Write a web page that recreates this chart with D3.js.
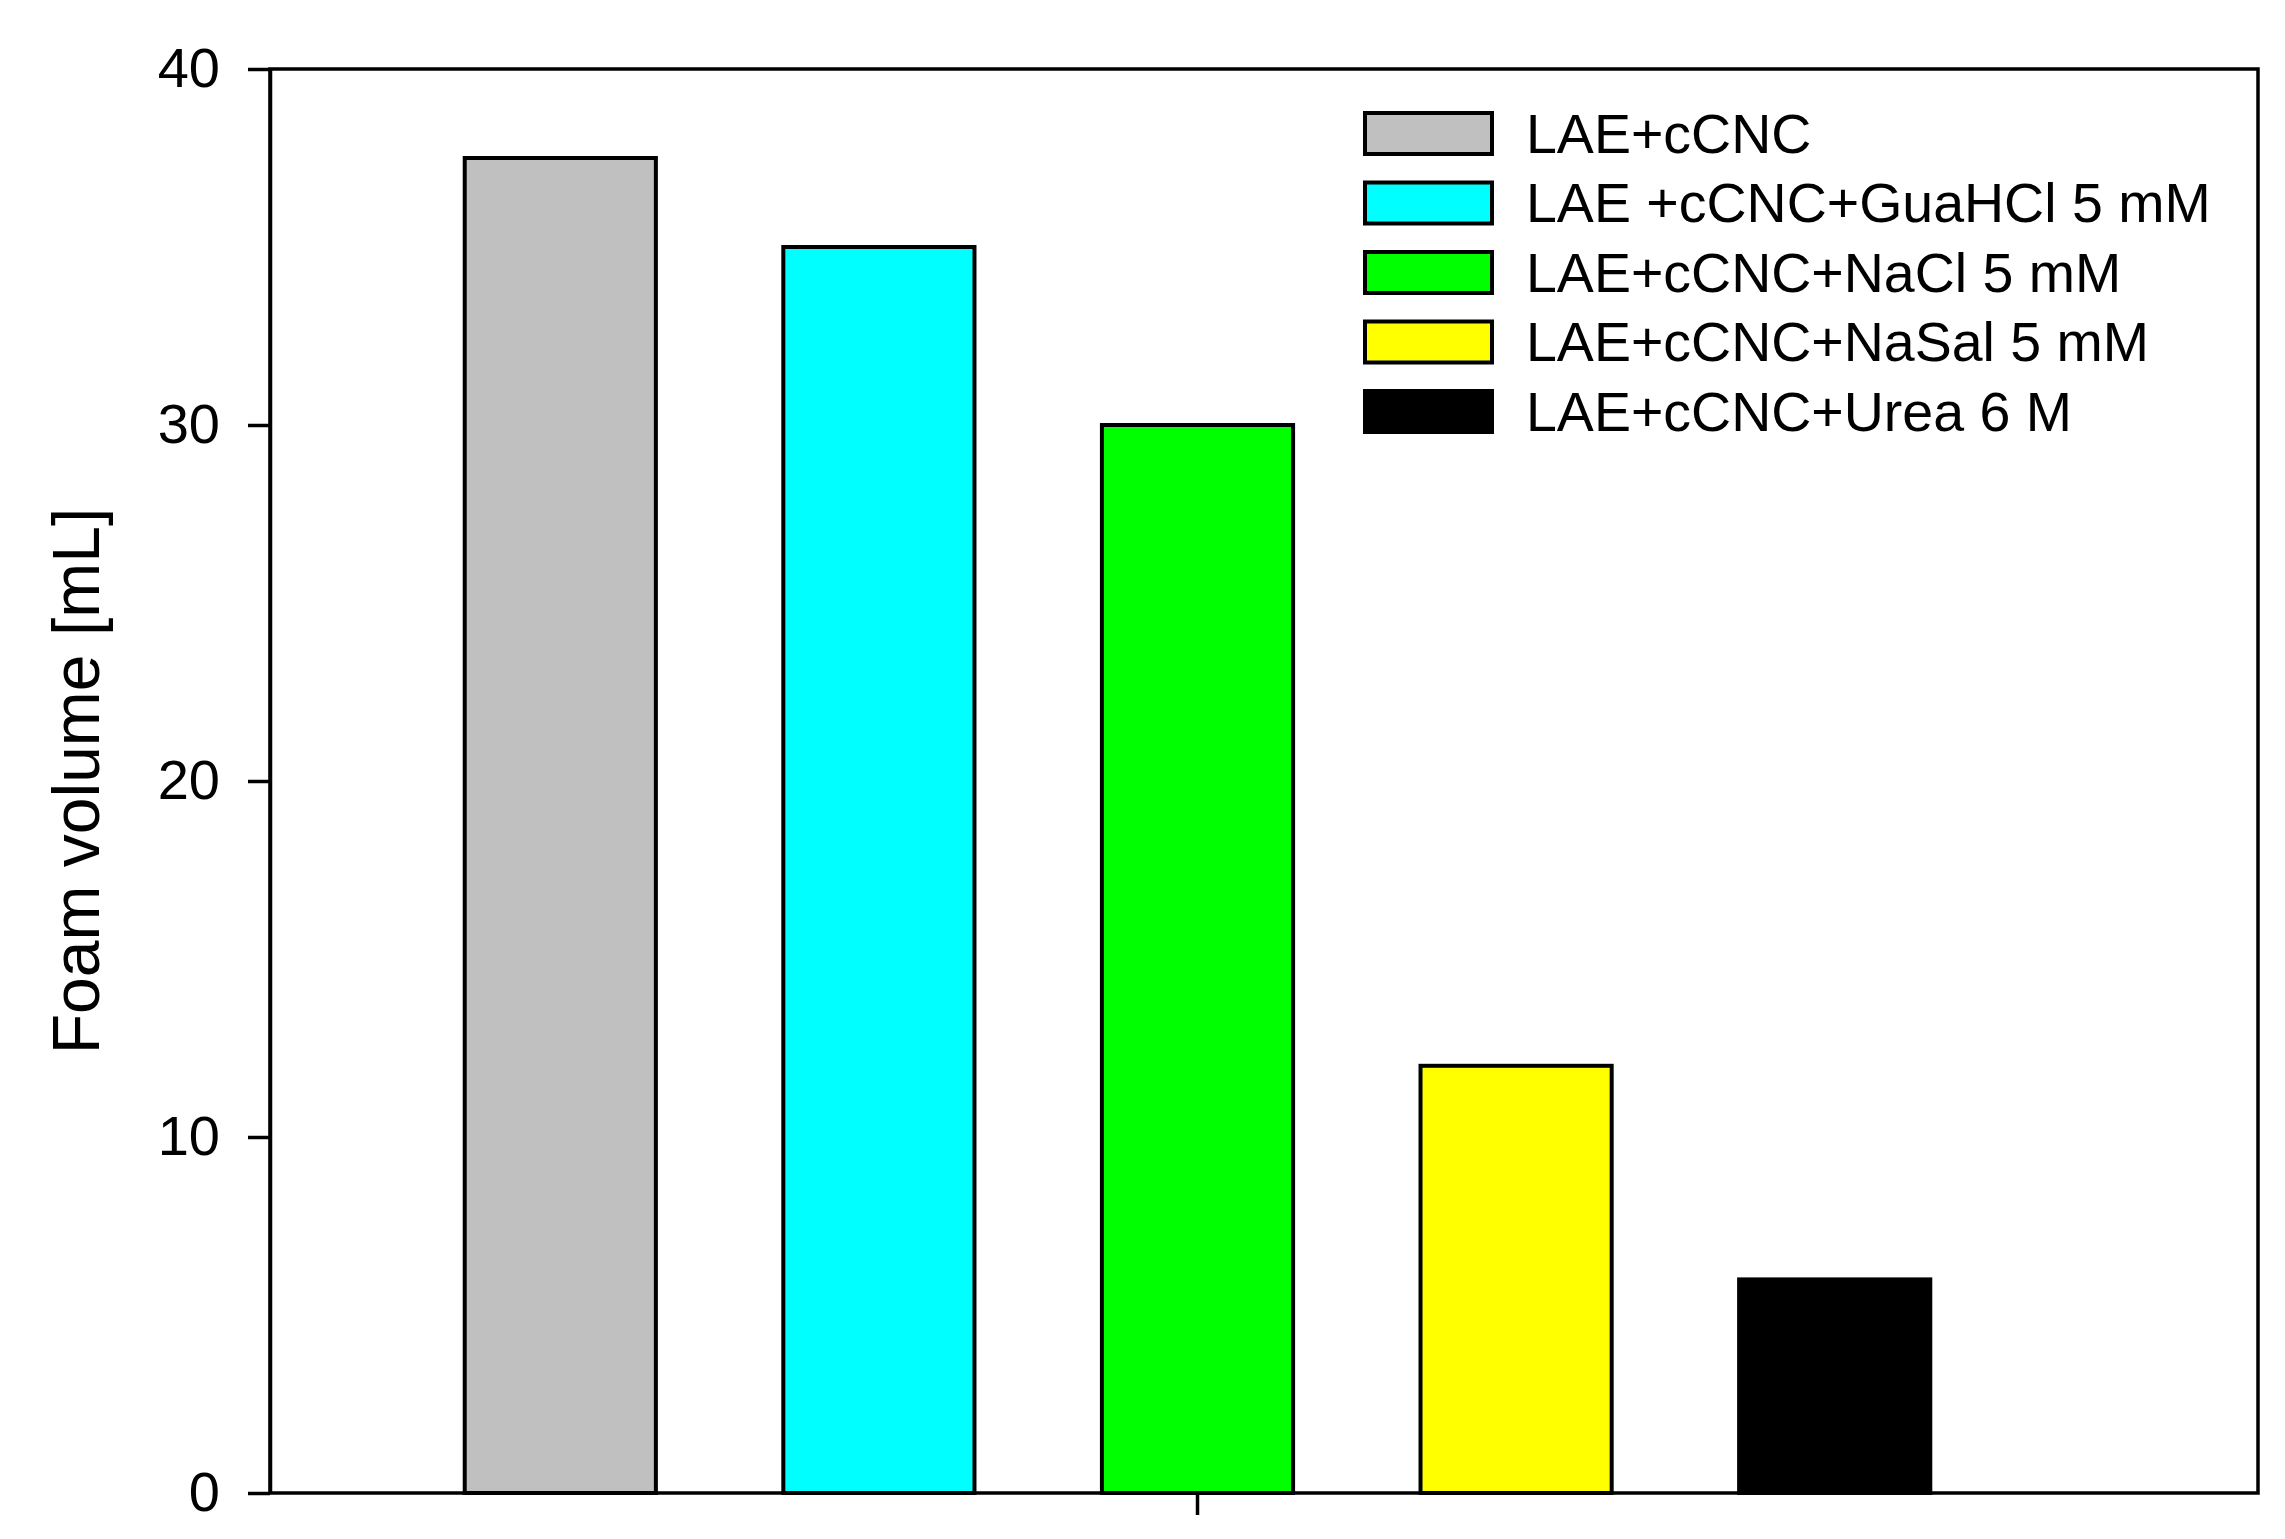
<html>
<head>
<meta charset="utf-8">
<script src="https://d3js.org/d3.v7.min.js"></script>
<style>
	body { margin: 0; background: #fff; }
	text { font-family: "Liberation Sans", Arial, sans-serif; fill: #000; }
	.axis path, .axis line { stroke: #000; stroke-width: 3.5; }
</style>
</head>
<body>
<script>

	var categories = ["LAE+cCNC", "LAE +cCNC+GuaHCl 5 mM", "LAE+cCNC+NaCl 5 mM", "LAE+cCNC+NaSal 5 mM", "LAE+cCNC+Urea 6 M"];
	var values = [37.5, 35, 30, 12, 6];
	var colors = ["#c0c0c0", "#00ffff", "#00ff00", "#ffff00", "#000000"];
	var yTicks = [0, 10, 20, 30, 40];

	var width = 2285,
	height = 1539;
	var margin = {top: 69, right: 27, bottom: 46, left: 270};
	var w = width - margin.left - margin.right,
	h = height - margin.top - margin.bottom;

	var svg = d3.select("body").append("svg")
	.attr("width", width)
	.attr("height", height);

	var g = svg.append("g")
	.attr("transform", "translate(" + margin.left + "," + margin.top + ")");

	var x = d3.scaleBand()
	.domain(categories)
	.range([131, 1724])
	.paddingInner(0.4)
	.paddingOuter(0.2);

	var y = d3.scaleLinear()
	.domain([0, 40])
	.range([h, 0]);

	// bars
	g.selectAll(".bar")
	.data(values)
	.enter().append("rect")
	.attr("class", "bar")
	.attr("x", function(d, i) { return x(categories[i]); })
	.attr("y", function(d) { return y(d); })
	.attr("width", x.bandwidth())
	.attr("height", function(d) { return h - y(d); })
	.attr("fill", function(d, i) { return colors[i]; })
	.attr("stroke", "#000")
	.attr("stroke-width", 4);

	// frame
	g.append("rect")
	.attr("width", w)
	.attr("height", h)
	.attr("fill", "none")
	.attr("stroke", "#000")
	.attr("stroke-width", 3.5);

	var yAxis = g.append("g")
	.attr("class", "axis")
	.call(d3.axisLeft(y).tickValues(yTicks).tickSize(22).tickPadding(28).tickSizeOuter(0));
	yAxis.selectAll("text").style("font-size", "56px");

	// single centre tick on x axis
	var xMid = x(categories[2]) + x.bandwidth() / 2;
	g.append("line")
	.attr("x1", xMid).attr("x2", xMid)
	.attr("y1", h).attr("y2", h + 22)
	.attr("stroke", "#000")
	.attr("stroke-width", 3.5);

	svg.append("text")
	.attr("transform", "translate(99," + (margin.top + h / 2) + ") rotate(-90)")
	.attr("text-anchor", "middle")
	.style("font-size", "66px")
	.text("Foam volume [mL]");

	// legend
	var legend = svg.append("g")
	.attr("transform", "translate(1365,133)");

	var item = legend.selectAll(".item")
	.data(categories)
	.enter().append("g")
	.attr("class", "item")
	.attr("transform", function(d, i) { return "translate(0," + (i * 69.5) + ")"; });

	item.append("rect")
	.attr("x", 0)
	.attr("y", -20)
	.attr("width", 127)
	.attr("height", 41)
	.attr("fill", function(d, i) { return colors[i]; })
	.attr("stroke", "#000")
	.attr("stroke-width", 4);

	item.append("text")
	.attr("x", 161)
	.attr("dy", "0.36em")
	.style("font-size", "55.5px")
	.text(function(d) { return d; });

</script>
</body>
</html>
